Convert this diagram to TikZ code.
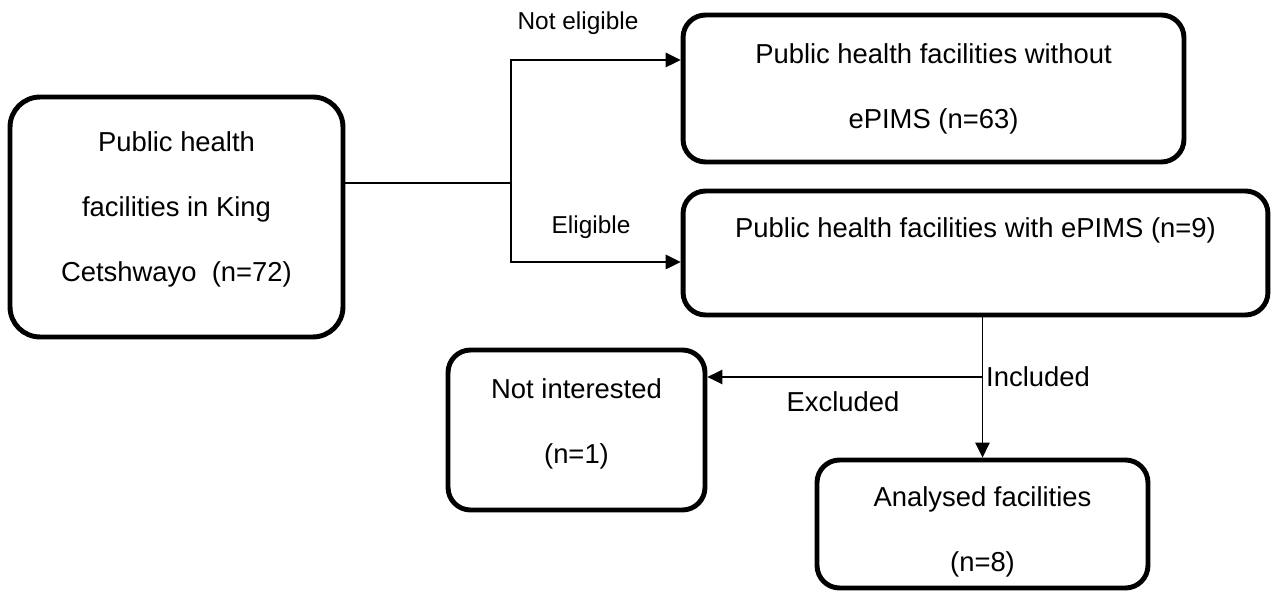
\documentclass[tikz,border=0pt]{standalone}
\usepackage{fontspec}
\setmainfont{Liberation Sans}
\usetikzlibrary{arrows.meta, positioning}

\begin{document}
\begin{tikzpicture}[
  x=0.02cm, y=-0.02cm,
  box/.style={draw, line width=2.8pt, rounded corners=0.45cm, align=center, inner sep=0pt, font=\fontsize{15.6pt}{37pt}\selectfont},
  lbl/.style={inner sep=0pt, font=\fontsize{15.6pt}{18pt}\selectfont},
  smalllbl/.style={lbl, font=\fontsize{13.9pt}{16pt}\selectfont},
  arrow/.style={-{Triangle[length=0.3cm, width=0.29cm]}, line width=0.85pt}
]
\useasboundingbox (0,0) rectangle (1272,594);
\node[box, rounded corners=0.6cm, minimum width=6.66cm, minimum height=4.8cm, text depth=12pt] (fac) at (176.5,217) {Public health\\facilities in King\\Cetshwayo\ \ (n=72)};
\node[box, minimum width=10.02cm, minimum height=2.94cm] (without) at (933.5,88.5) {Public health facilities without\\ePIMS (n=63)};
\node[box, minimum width=11.7cm, minimum height=2.48cm, text depth=29pt] (with) at (975.5,253) {Public health facilities with ePIMS (n=9)};
\node[box, minimum width=5.14cm, minimum height=3.2cm, text depth=10pt] (notint) at (576.5,430) {Not interested\\(n=1)};
\node[box, minimum width=6.62cm, minimum height=2.56cm, text height=57pt] (analysed) at (982.5,524) {Analysed facilities\\(n=8)};

\coordinate (split) at (511,183);
\coordinate (up) at (511,60);
\coordinate (down) at (511,262);
\coordinate (branch) at (982,377);

\draw[line width=0.85pt] (fac.east |- split) -- (split);
\draw[arrow] (split) -- (up) -- (without.west |- up);
\draw[arrow] (split) -- (down) -- (with.west |- down);
\draw[arrow] (analysed.north |- with.south) -- (analysed.north);
\draw[arrow] (branch) -- (notint.east |- branch);

\node[smalllbl] (noteligible) at (578,23) {Not eligible};
\node[smalllbl] (eligible) at (591,227) {Eligible};
\node[lbl] (included) at (1038,377) {Included};
\node[lbl] (excluded) at (843,402) {Excluded};
\end{tikzpicture}
\end{document}
